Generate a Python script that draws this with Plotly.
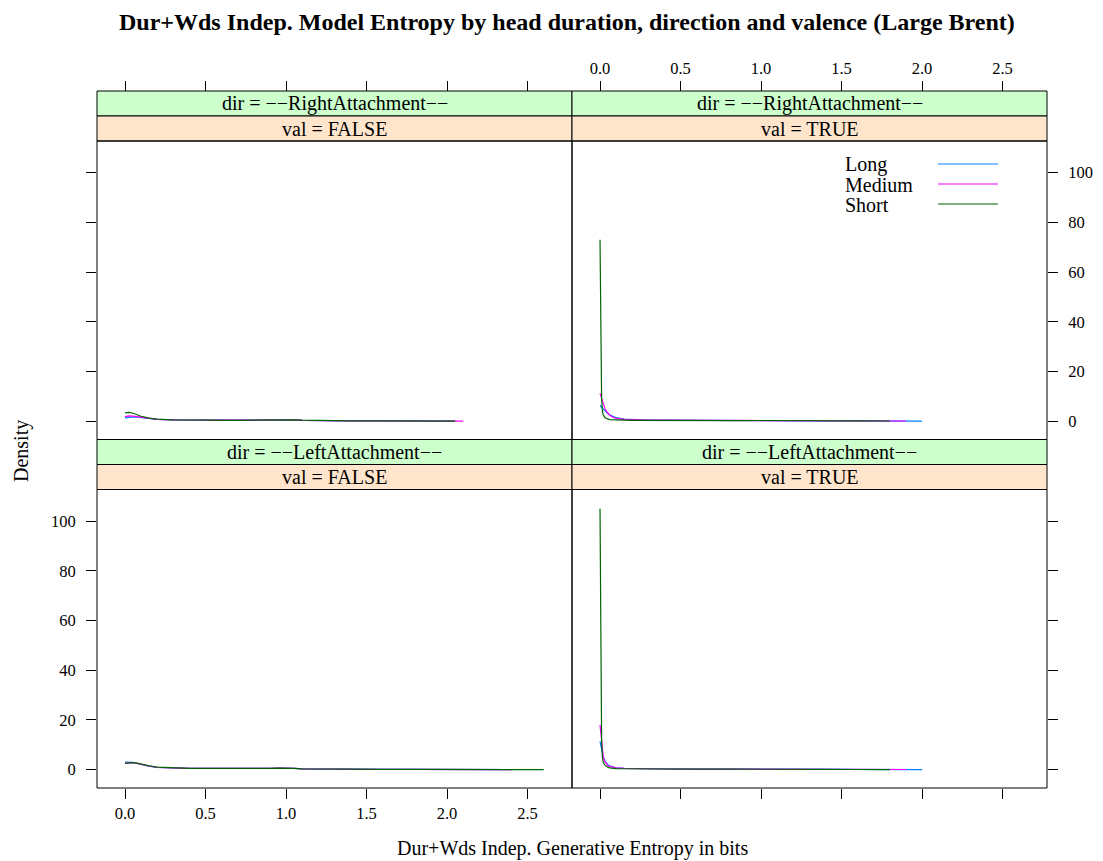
import plotly.graph_objects as go

W, H = 1103, 861

# ---------------- data ----------------
groups = ["Long", "Medium", "Short"]
colors = ["#0080ff", "#ff00ff", "#006400"]

x_ticks = [0.0, 0.5, 1.0, 1.5, 2.0, 2.5]
x_ticktext = ["0.0", "0.5", "1.0", "1.5", "2.0", "2.5"]
y_ticks = [0, 20, 40, 60, 80, 100]

# evaluation grid for valence FALSE panels
x_grid_false = [0.0, 0.025, 0.05, 0.075, 0.1, 0.15, 0.2, 0.3, 0.4, 0.5, 0.6, 0.7,
                0.8, 0.9, 0.95, 1.0, 1.05, 1.1, 1.2, 1.4, 1.6, 1.8, 2.0, 2.05,
                2.1, 2.2, 2.4, 2.5, 2.6]
# evaluation grid for valence TRUE panels
x_grid_true = [0.0, 0.002, 0.004, 0.006, 0.008, 0.01, 0.015, 0.02, 0.03, 0.04,
               0.05, 0.06, 0.08, 0.1, 0.15, 0.2, 0.3, 0.4, 0.5, 0.6, 0.8, 1.0,
               1.2, 1.4, 1.6, 1.8, 1.9, 2.0]

# dir = RightAttachment, val = FALSE
right_false_long = [1.3, 1.6, 1.7, 1.6, 1.4, 1.0, 0.7, 0.5, 0.45, 0.4, 0.38, 0.38,
                    0.42, 0.5, 0.55, 0.6, 0.5, 0.35, 0.22, 0.15, 0.12, 0.1, 0.08, 0.06]
right_false_medium = [1.8, 2.1, 2.0, 1.8, 1.5, 1.0, 0.7, 0.5, 0.45, 0.4, 0.38, 0.38,
                      0.42, 0.5, 0.55, 0.6, 0.5, 0.35, 0.22, 0.15, 0.12, 0.1, 0.08,
                      0.07, 0.05]
right_false_short = [3.3, 3.5, 3.2, 2.6, 2.0, 1.2, 0.8, 0.55, 0.45, 0.4, 0.35, 0.35,
                     0.4, 0.5, 0.6, 0.65, 0.55, 0.4, 0.25, 0.15, 0.12, 0.1, 0.08, 0.06]

# dir = RightAttachment, val = TRUE
right_true_long = [6.4, 6.3, 6.2, 6.0, 5.9, 5.7, 5.3, 4.9, 4.2, 3.6, 3.0, 2.6, 1.9,
                   1.4, 0.8, 0.6, 0.45, 0.4, 0.35, 0.3, 0.28, 0.35, 0.2, 0.15, 0.12,
                   0.1, 0.08, 0.06]
right_true_medium = [11.2, 10.8, 10.3, 9.8, 9.3, 8.8, 7.8, 6.8, 5.2, 4.0, 3.0, 2.4,
                     1.6, 1.1, 0.7, 0.55, 0.45, 0.4, 0.35, 0.3, 0.28, 0.35, 0.2,
                     0.15, 0.12, 0.1, 0.08]
right_true_short = [73.0, 60.0, 40.0, 25.0, 15.0, 9.0, 4.0, 2.5, 1.5, 1.0, 0.8, 0.6,
                    0.5, 0.45, 0.4, 0.35, 0.3, 0.28, 0.25, 0.22, 0.2, 0.28, 0.15,
                    0.12, 0.1, 0.08]

# dir = LeftAttachment, val = FALSE
left_false_long = [3.0, 3.1, 2.9, 2.5, 2.1, 1.4, 0.95, 0.65, 0.55, 0.5, 0.45, 0.45,
                   0.5, 0.55, 0.6, 0.65, 0.5, 0.35, 0.25, 0.18, 0.14, 0.12, 0.1,
                   0.09, 0.08, 0.07, 0.05]
left_false_medium = [2.7, 2.9, 2.8, 2.5, 2.1, 1.4, 0.95, 0.65, 0.55, 0.5, 0.45, 0.45,
                     0.5, 0.55, 0.6, 0.65, 0.5, 0.35, 0.25, 0.18, 0.14, 0.12, 0.1,
                     0.09, 0.08, 0.07, 0.05]
left_false_short = [2.5, 2.7, 2.8, 2.6, 2.2, 1.5, 1.0, 0.7, 0.55, 0.5, 0.45, 0.45,
                    0.5, 0.55, 0.6, 0.65, 0.5, 0.35, 0.25, 0.18, 0.14, 0.12, 0.1,
                    0.09, 0.08, 0.07, 0.05, 0.04, 0.03]

# dir = LeftAttachment, val = TRUE
left_true_long = [11.4, 10.8, 10.1, 9.4, 8.7, 8.0, 6.5, 5.2, 3.5, 2.5, 1.9, 1.5, 1.0,
                  0.75, 0.5, 0.4, 0.32, 0.28, 0.25, 0.22, 0.2, 0.25, 0.15, 0.12,
                  0.1, 0.08, 0.07, 0.06]
left_true_medium = [18.0, 16.5, 14.5, 12.8, 11.2, 9.8, 7.2, 5.3, 3.2, 2.2, 1.6, 1.3,
                    0.9, 0.7, 0.5, 0.4, 0.32, 0.28, 0.25, 0.22, 0.2, 0.25, 0.15,
                    0.12, 0.1, 0.08, 0.07]
left_true_short = [105.0, 85.0, 55.0, 32.0, 18.0, 11.0, 5.0, 3.0, 1.8, 1.2, 0.9, 0.7,
                   0.55, 0.45, 0.38, 0.33, 0.28, 0.25, 0.22, 0.2, 0.2, 0.25, 0.15,
                   0.1, 0.08, 0.06]

dir_labels = ["dir = \u2212\u2212RightAttachment\u2212\u2212", "dir = \u2212\u2212LeftAttachment\u2212\u2212"]
val_labels = ["val = FALSE", "val = TRUE"]

title_text = "Dur+Wds Indep. Model Entropy by head duration, direction and valence (Large Brent)"
x_title = "Dur+Wds Indep. Generative Entropy in bits"
y_title = "Density"

# ---------------- layout geometry (pixels) ----------------
FONT = "Liberation Serif"
x_range = [-0.174, 2.776]
y_range = [-7.37, 112.7]

col_px = [(97, 572), (572, 1047)]
# (strip top, panel top, panel bottom) for each row
row_px = [(91, 141, 439.5), (439.5, 489.5, 788)]


def fx(px):
    return px / W


def fy(py):
    return 1 - py / H


panels = [
    # (row, col, grid, [long, medium, short], dir label, val label)
    (0, 0, x_grid_false, [right_false_long, right_false_medium, right_false_short], dir_labels[0], val_labels[0]),
    (0, 1, x_grid_true, [right_true_long, right_true_medium, right_true_short], dir_labels[0], val_labels[1]),
    (1, 0, x_grid_false, [left_false_long, left_false_medium, left_false_short], dir_labels[1], val_labels[0]),
    (1, 1, x_grid_true, [left_true_long, left_true_medium, left_true_short], dir_labels[1], val_labels[1]),
]

fig = go.Figure()
shapes = []
annotations = []
layout_axes = {}

tickfont = dict(family=FONT, size=16.5, color="black")

for i, (r, c, grid, series, dlab, vlab) in enumerate(panels):
    n = i + 1
    xa = "x" if n == 1 else f"x{n}"
    ya = "y" if n == 1 else f"y{n}"
    for g, col, ys in zip(groups, colors, series):
        fig.add_trace(go.Scatter(
            x=grid[:len(ys)], y=ys, mode="lines", name=g,
            line=dict(color=col, width=1.2), xaxis=xa, yaxis=ya,
            showlegend=False, hoverinfo="skip"))

    x0p, x1p = col_px[c]
    st, pt, pb = row_px[r]

    xaxis = dict(domain=[fx(x0p), fx(x1p)], range=x_range, tickvals=x_ticks,
                 ticktext=x_ticktext, ticks="outside", ticklen=10, tickwidth=1,
                 tickcolor="black", showgrid=False, zeroline=False, showline=False,
                 tickfont=tickfont, fixedrange=True)
    yaxis = dict(domain=[fy(pb), fy(pt)], range=y_range, tickvals=y_ticks,
                 ticks="outside", ticklen=10, tickwidth=1, tickcolor="black",
                 showgrid=False, zeroline=False, showline=False, tickfont=tickfont,
                 ticklabelstandoff=7, fixedrange=True)
    if r == 0:
        xaxis.update(anchor="free", position=fy(st), side="top",
                     showticklabels=(c == 1))
    else:
        xaxis.update(anchor=ya, side="bottom", showticklabels=(c == 0))
    if c == 0:
        yaxis.update(anchor=xa, side="left", showticklabels=(r == 1))
    else:
        yaxis.update(anchor=xa, side="right", showticklabels=(r == 0))

    layout_axes["xaxis" if n == 1 else f"xaxis{n}"] = xaxis
    layout_axes["yaxis" if n == 1 else f"yaxis{n}"] = yaxis

    # panel border
    shapes.append(dict(type="rect", xref="paper", yref="paper",
                       x0=fx(x0p), x1=fx(x1p), y0=fy(pb), y1=fy(pt),
                       line=dict(color="black", width=1), fillcolor="rgba(0,0,0,0)",
                       layer="above"))
    # strips
    mid = (st + pt) / 2
    shapes.append(dict(type="rect", xref="paper", yref="paper",
                       x0=fx(x0p), x1=fx(x1p), y0=fy(mid), y1=fy(st),
                       line=dict(color="black", width=1), fillcolor="#ccffcc",
                       layer="below"))
    shapes.append(dict(type="rect", xref="paper", yref="paper",
                       x0=fx(x0p), x1=fx(x1p), y0=fy(pt), y1=fy(mid),
                       line=dict(color="black", width=1), fillcolor="#ffe5cc",
                       layer="below"))
    annotations.append(dict(text=dlab, xref="paper", yref="paper",
                            x=fx((x0p + x1p) / 2), y=fy((st + mid) / 2),
                            showarrow=False, xanchor="center", yanchor="middle",
                            font=dict(family=FONT, size=20, color="black")))
    annotations.append(dict(text=vlab, xref="paper", yref="paper",
                            x=fx((x0p + x1p) / 2), y=fy((mid + pt) / 2),
                            showarrow=False, xanchor="center", yanchor="middle",
                            font=dict(family=FONT, size=20, color="black")))

# legend (lattice key inside top-right panel)
leg_y = [165, 185, 205]
for g, col, ly in zip(groups, colors, leg_y):
    annotations.append(dict(text=g, xref="paper", yref="paper", x=fx(843), y=fy(ly),
                            showarrow=False, xanchor="left", yanchor="middle",
                            font=dict(family=FONT, size=20, color="black")))
    shapes.append(dict(type="line", xref="paper", yref="paper",
                       x0=fx(938), x1=fx(998), y0=fy(ly - 1), y1=fy(ly - 1),
                       line=dict(color=col, width=1.2)))

# titles
annotations.append(dict(text="<b>" + title_text + "</b>", xref="paper", yref="paper",
                        x=fx(567), y=fy(22), showarrow=False, xanchor="center",
                        yanchor="middle", font=dict(family=FONT, size=24, color="black")))
annotations.append(dict(text=x_title, xref="paper", yref="paper",
                        x=fx(572), y=fy(848), showarrow=False, xanchor="center",
                        yanchor="middle", font=dict(family=FONT, size=20, color="black")))
annotations.append(dict(text=y_title, xref="paper", yref="paper",
                        x=fx(21), y=fy(451), showarrow=False, xanchor="center",
                        yanchor="middle", textangle=-90,
                        font=dict(family=FONT, size=20, color="black")))

fig.update_layout(width=W, height=H, margin=dict(l=0, r=0, t=0, b=0),
                  paper_bgcolor="white", plot_bgcolor="white",
                  shapes=shapes, annotations=annotations, showlegend=False,
                  **layout_axes)

fig.write_html("out.html", config={"displayModeBar": False},
               post_script="document.body.style.margin='0px';document.body.style.overflow='hidden';")
